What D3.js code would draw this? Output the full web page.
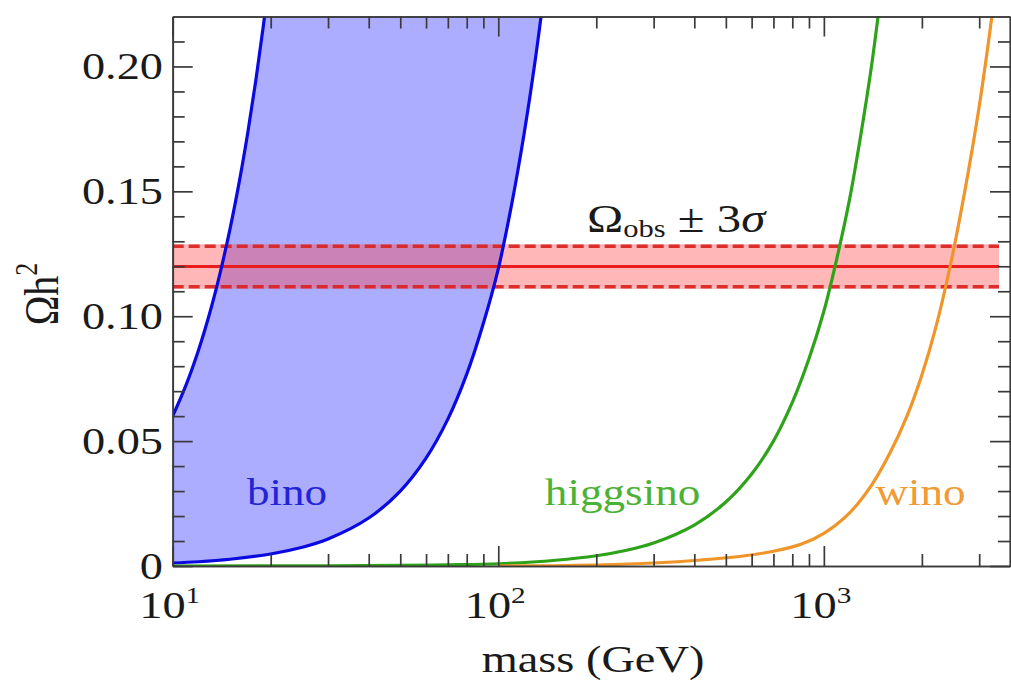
<!DOCTYPE html>
<head>
<meta charset="utf-8">
<title>Relic density vs mass</title>
<script src="https://d3js.org/d3.v7.min.js"></script>
<style>
body { margin: 0; background: #fff; }
text { font-family: "Times New Roman", Tinos, "Liberation Serif", Times, serif; }
</style>
</head>
<body>
<div id="container"></div>
<script>
//------------------------------DATA------------------------------//
// [mass in GeV, Omega h^2]
const binoUpper = [[10,0.060],[11,0.0726],[12,0.0864],[13,0.1014],[14,0.1176],[15,0.135],
  [16,0.1536],[17,0.1734],[18,0.1944],[19,0.2166],[20,0.240]];
const binoLower = [[10,0.0012],[12,0.0017],[15,0.0027],[20,0.0048],[25,0.0075],[30,0.0108],
  [40,0.0192],[50,0.030],[60,0.0432],[70,0.0588],[80,0.0768],[90,0.0972],[100,0.119],
  [110,0.145],[120,0.173],[130,0.203],[140,0.235]];
const higgsino = [[10,0.0],[30,0.0001],[50,0.0003],[70,0.0005],[100,0.0009],[150,0.0023],
  [200,0.0041],[250,0.0064],[300,0.0092],[400,0.0164],[500,0.0256],[600,0.0368],
  [700,0.050],[800,0.0655],[900,0.083],[1000,0.102],[1100,0.124],[1200,0.147],
  [1300,0.173],[1400,0.200],[1500,0.230]];
const wino = [[100,0.0],[150,0.0001],[200,0.0004],[300,0.0012],[420,0.0024],[550,0.0038],
  [700,0.0059],[850,0.0087],[1000,0.0131],[1200,0.0213],[1400,0.0323],[1600,0.0455],
  [1800,0.060],[2000,0.0765],[2200,0.0948],[2443,0.120],[2700,0.149],[3000,0.184],
  [3281,0.220],[3500,0.250]];
const omegaObs = 0.1199;
const omegaSigma3 = 0.0081;
const curveLabels = ["bino", "higgsino", "wino"];
const curveLabelMass = [16.9, 139, 1440];
const curveLabelOmega = [0.0245, 0.0245, 0.0245];

const massDomain = [10, 3730];
const omegaDomain = [0, 0.22];
const xMajor = [10, 100, 1000];
const xMajorExp = ["1", "2", "3"];
const xMinor = [20,30,40,50,60,70,80,90,200,300,400,500,600,700,800,900,2000,3000];
const yMajor = [0, 0.05, 0.10, 0.15, 0.20];
const yMajorLabels = ["0", "0.05", "0.10", "0.15", "0.20"];
const yMinor = [0.01,0.02,0.03,0.04,0.06,0.07,0.08,0.09,0.11,0.12,0.13,0.14,0.16,0.17,0.18,0.19,0.21];

//-----------------------------SVG--------------------------------//
const width = 1011, height = 683;
const pLeft = 172.7, pRight = 1010, pTop = 16.5, pBottom = 566;
const SX = 1.22; // glyphs in the picture are stretched horizontally

const svg = d3.select("#container").append("svg")
  .attr("width", width).attr("height", height);

const x = d3.scaleLog().domain(massDomain).range([pLeft, pRight]);
const y = d3.scaleLinear().domain(omegaDomain).range([pBottom, pTop]);

svg.append("clipPath").attr("id", "plot")
  .append("rect").attr("x", pLeft).attr("y", pTop)
  .attr("width", pRight - pLeft).attr("height", pBottom - pTop);

const line = d3.line()
  .x(d => x(d[0])).y(d => y(d[1]))
  .curve(d3.curveCatmullRom.alpha(0.5));

const plot = svg.append("g").attr("clip-path", "url(#plot)");
const bandEnd = 3450;

//---------------------------BINO FILL----------------------------//
const upperRev = binoUpper.slice().reverse();
plot.append("path")
  .attr("d", line(binoLower) + line(upperRev).replace(/^M/, "L") + "Z")
  .attr("fill", "rgb(65,65,255)").attr("opacity", 0.43);

//---------------------------BAND---------------------------------//
plot.append("rect")
  .attr("x", pLeft).attr("width", x(bandEnd) - pLeft)
  .attr("y", y(omegaObs + omegaSigma3) - 2)
  .attr("height", y(omegaObs - omegaSigma3) - y(omegaObs + omegaSigma3) + 4)
  .attr("fill", "rgb(255,60,60)").attr("opacity", 0.37);

[omegaObs + omegaSigma3, omegaObs - omegaSigma3].forEach(v => {
  plot.append("line")
    .attr("x1", pLeft).attr("x2", x(bandEnd))
    .attr("y1", y(v)).attr("y2", y(v))
    .attr("stroke", "#dc2222").attr("stroke-width", 3.4).attr("opacity", 0.92)
    .attr("stroke-dasharray", "11,5");
});
plot.append("line")
  .attr("x1", pLeft).attr("x2", x(bandEnd))
  .attr("y1", y(omegaObs)).attr("y2", y(omegaObs))
  .attr("stroke", "#e81c1c").attr("stroke-width", 2.8);

//----------------------------CURVES------------------------------//
const curves = [
  {data: binoUpper, color: "#0a0ae0"},
  {data: binoLower, color: "#0a0ae0"},
  {data: higgsino, color: "#2ea31a"},
  {data: wino, color: "#f0952a"}
];
plot.selectAll(".curve")
  .data(curves)
  .join("path")
  .attr("class", "curve")
  .attr("d", d => line(d.data))
  .attr("fill", "none")
  .attr("stroke", d => d.color)
  .attr("stroke-width", 3.2);

//-----------------------------AXES-------------------------------//
function styleAxis(g) {
  g.selectAll("path, line").attr("stroke", "#3a3a3a").attr("stroke-width", 1.7);
  g.selectAll("text").remove();
}
svg.append("g").attr("transform", `translate(0,${pBottom})`)
  .call(d3.axisBottom(x).tickValues(xMajor).tickSizeInner(-20).tickSizeOuter(0)).call(styleAxis);
svg.append("g").attr("transform", `translate(0,${pBottom})`)
  .call(d3.axisBottom(x).tickValues(xMinor).tickSizeInner(-12).tickSizeOuter(0)).call(styleAxis);
svg.append("g").attr("transform", `translate(0,${pTop})`)
  .call(d3.axisTop(x).tickValues(xMajor).tickSizeInner(-20).tickSizeOuter(0)).call(styleAxis);
svg.append("g").attr("transform", `translate(0,${pTop})`)
  .call(d3.axisTop(x).tickValues(xMinor).tickSizeInner(-12).tickSizeOuter(0)).call(styleAxis);
svg.append("g").attr("transform", `translate(${pLeft},0)`)
  .call(d3.axisLeft(y).tickValues(yMajor).tickSizeInner(-20).tickSizeOuter(0)).call(styleAxis);
svg.append("g").attr("transform", `translate(${pLeft},0)`)
  .call(d3.axisLeft(y).tickValues(yMinor).tickSizeInner(-12).tickSizeOuter(0)).call(styleAxis);
svg.append("g").attr("transform", `translate(${pRight},0)`)
  .call(d3.axisRight(y).tickValues(yMajor).tickSizeInner(-20).tickSizeOuter(0)).call(styleAxis);
svg.append("g").attr("transform", `translate(${pRight},0)`)
  .call(d3.axisRight(y).tickValues(yMinor).tickSizeInner(-12).tickSizeOuter(0)).call(styleAxis);

//-----------------------------TEXT-------------------------------//
function stretched(px, py, anchor, size, fill, rot) {
  return svg.append("g")
    .attr("transform", `translate(${px},${py}) scale(${SX},1)` + (rot ? ` rotate(${rot})` : ""))
    .append("text")
    .attr("text-anchor", anchor)
    .attr("font-size", size)
    .attr("fill", fill || "#1a1a1a");
}

yMajor.forEach((v, i) => {
  stretched(163, y(v) + 13, "end", 38).text(yMajorLabels[i]);
});

xMajor.forEach((v, i) => {
  const t = stretched(x(v) - 3, 618, "middle", 38);
  t.append("tspan").text("10");
  t.append("tspan").attr("font-size", 24).attr("dy", -15).text(xMajorExp[i]);
});

stretched(593, 672, "middle", 38).text("mass (GeV)");

const yl = stretched(58, 294, "middle", 40, "#1a1a1a", -90);
yl.append("tspan").text("Ωh");
yl.append("tspan").attr("font-size", 26).attr("dy", -17).text("2");

const obs = stretched(587, 231.5, "start", 40);
obs.append("tspan").text("Ω");
obs.append("tspan").attr("font-size", 25).attr("dy", 5).text("obs");
obs.append("tspan").attr("dy", -5).text(" ± 3");
obs.append("tspan").attr("font-style", "italic").text("σ");

const labelColors = ["#2323d8", "#4bb236", "#f29a35"];
curveLabels.forEach((s, i) => {
  stretched(x(curveLabelMass[i]), y(curveLabelOmega[i]), "start", 37, labelColors[i]).text(s);
});
</script>
</body>
